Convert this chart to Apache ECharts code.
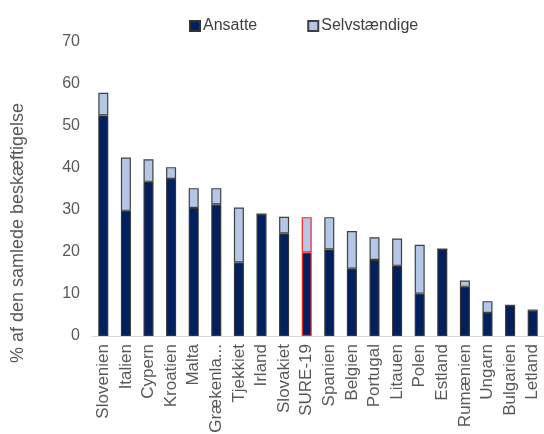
<!DOCTYPE html>
<html>
<head>
<meta charset="utf-8">
<script src="https://cdn.jsdelivr.net/npm/echarts@6/dist/echarts.min.js"></script>
<style>
  html, body { margin: 0; padding: 0; background: #fff; }
  #chart { width: 544px; height: 434px; }
</style>
</head>
<body>
<div id="chart"></div>
<script>
const countries = ["Slovenien", "Italien", "Cypern", "Kroatien", "Malta", "Grækenland", "Tjekkiet", "Irland",
  "Slovakiet", "SURE-19", "Spanien", "Belgien", "Portugal", "Litauen", "Polen", "Estland",
  "Rumænien", "Ungarn", "Bulgarien", "Letland"];
const ansatte = [52.5, 29.8, 36.7, 37.4, 30.5, 31.3, 17.5, 29.0, 24.4, 19.9, 20.6, 16.0, 18.1, 16.7, 10.1, 20.7, 11.7, 5.5, 7.3, 6.0];
const selvstaendige = [5.4, 12.7, 5.4, 2.8, 4.7, 3.9, 13.1, 0, 4.0, 8.4, 7.7, 9.0, 5.4, 6.5, 11.6, 0, 1.5, 2.8, 0, 0.3];
const yTicks = [0, 10, 20, 30, 40, 50, 60, 70];
const highlight = "SURE-19";

const FONT = "Liberation Sans, Arial, sans-serif";
const GREY = "#595959";

const chart = echarts.init(document.getElementById("chart"));

// red outline for the EU average bar
const withBorder = (values) => values.map((v, i) => ({
  value: v,
  itemStyle: countries[i] === highlight ? { borderColor: "#ff2020" } : undefined,
}));

chart.setOption({
  backgroundColor: "#fff",
  animation: false,
  textStyle: { fontFamily: FONT },
  legend: {
    left: 184,
    top: 13,
    itemWidth: 10,
    itemHeight: 10,
    itemGap: 50,
    icon: "rect",
    textStyle: { fontSize: 16, color: "#404040", padding: [0, 0, 0, -2] },
    data: ["Ansatte", "Selvstændige"],
  },
  grid: {
    left: 92,
    right: 0,
    top: 42,
    bottom: 98,
    containLabel: false,
    outerBoundsMode: "none",
  },
  xAxis: {
    type: "category",
    data: countries,
    axisLine: { lineStyle: { color: "#d9d9d9", width: 1 } },
    axisTick: { show: false },
    axisLabel: {
      rotate: 90,
      margin: 8,
      interval: 0,
      fontSize: 17,
      color: GREY,
      width: 93,
      overflow: "truncate",
    },
  },
  yAxis: {
    type: "value",
    min: yTicks[0],
    max: yTicks[yTicks.length - 1],
    interval: 10,
    axisLine: { show: false },
    axisTick: { show: false },
    splitLine: { show: false },
    axisLabel: { fontSize: 16, color: GREY, margin: 12 },
  },
  graphic: [
    {
      type: "text",
      x: 18,
      y: 233,
      rotation: Math.PI / 2,
      style: {
        text: "% af den samlede beskæftigelse",
        fontSize: 18,
        fontFamily: FONT,
        fill: GREY,
        align: "center",
        verticalAlign: "middle",
      },
    },
  ],
  series: [
    {
      name: "Ansatte",
      type: "bar",
      stack: "total",
      barWidth: 10,
      itemStyle: { color: "#002060", borderColor: "#333", borderWidth: 1.2 },
      data: withBorder(ansatte),
    },
    {
      name: "Selvstændige",
      type: "bar",
      stack: "total",
      barWidth: 10,
      itemStyle: { color: "#b4c7e7", borderColor: "#404040", borderWidth: 1.2 },
      data: withBorder(selvstaendige),
    },
  ],
});
</script>
</body>
</html>
